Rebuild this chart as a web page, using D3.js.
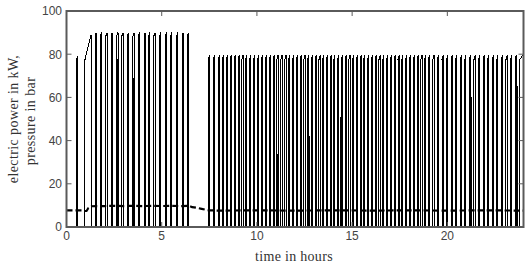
<!DOCTYPE html>
<html>
<head>
<meta charset="utf-8">
<script src="https://cdn.jsdelivr.net/npm/d3@7"></script>
<style>
    html, body { margin: 0; padding: 0; background: #fff; }
    svg { display: block; }
</style>
</head>
<body>
<div id="chart"></div>
<script>
const xTicks = [0, 5, 10, 15, 20];
const yTicks = [0, 20, 40, 60, 80, 100];

// runs before the regular cycling: [on (h), off (h), kW at switch-on, kW at switch-off]
const warmupRuns = [[0.52, 0.57, 77, 79], [0.97, 1.29, 77.5, 89]];

// switch-on times (h) while cycling at ~90 kW
const highStarts = [1.50, 1.78, 2.07, 2.34, 2.64, 2.91, 3.19, 3.49, 3.78, 4.07,
    4.31, 4.59, 4.89, 5.19, 5.47, 5.78, 6.07, 6.34];
const highLevel = [88.5, 90];
const highOnTime = 0.065;

// switch-on times (h) while cycling at ~79 kW
const lowStarts = [7.45, 7.71, 7.97,
    8.18, 8.39, 8.59, 8.80, 9.01, 9.21, 9.41, 9.62, 9.83, 10.03,
    10.23, 10.44, 10.65, 10.85, 11.05, 11.26, 11.47, 11.67, 11.87, 12.07,
    12.27, 12.47, 12.66, 12.86, 13.06, 13.26, 13.45, 13.65, 13.84, 14.04,
    14.24, 14.43, 14.63, 14.83, 15.02, 15.22, 15.42, 15.61, 15.81, 16.01,
    16.21, 16.41, 16.61, 16.81, 17.01, 17.21, 17.41, 17.61, 17.81, 18.01,
    18.21, 18.41, 18.61, 18.81, 19.01,
    19.24, 19.48, 19.72, 19.96, 20.20, 20.44, 20.68, 20.92, 21.16, 21.40,
    21.64, 21.88, 22.12, 22.36, 22.60, 22.84, 23.08, 23.32, 23.56];
const lowLevel = [77.5, 79.5];
const lowOnTime = 0.06;

// last run still on at the end of the day
const finalRun = [23.8, 24, 77.5, 80];

// short partial spikes in the record: [h, kW]
const partialSpikes = [[2.66, 78], [3.53, 69], [5.24, 78], [8.24, 17], [11.06, 34],
    [11.92, 49], [12.12, 59.5], [12.76, 42], [14.22, 34], [14.39, 51], [15.87, 42],
    [16.5, 25], [19.22, 68], [19.48, 17], [21.29, 60], [23.69, 65.5]];

// pressure in bar
const pressureHours = [0, 0.85, 0.95, 1.05, 1.15, 1.3, 1.6, 2.0, 2.5, 3.0, 3.5, 4.0, 4.5,
    5.0, 5.5, 6.0, 6.45, 6.6, 6.9, 7.1, 7.3, 7.5, 8, 10, 12, 14, 16, 18, 20, 22, 24];
const pressureBar = [7.7, 7.7, 7.4, 7.4, 8.8, 9.6, 9.7, 9.7, 9.8, 9.7, 9.8, 9.7, 9.8,
    9.7, 9.8, 9.7, 9.8, 9.2, 8.8, 8.4, 8.0, 7.7, 7.6, 7.7, 7.6, 7.7, 7.6, 7.7, 7.6, 7.7, 7.6];

const width = 531, height = 272;
const x = d3.scaleLinear().domain([0, 24]).range([66.5, 523.5]);
const y = d3.scaleLinear().domain([0, 100]).range([227, 11]);

const svg = d3.select('#chart').append('svg')
    .attr('width', width)
    .attr('height', height);

// build the power trace from the runs
const runs = warmupRuns
    .concat(highStarts.map(s => [s, s + highOnTime, highLevel[0], highLevel[1]]))
    .concat(lowStarts.map(s => [s, s + lowOnTime, lowLevel[0], lowLevel[1]]))
    .concat([finalRun]);

const power = [[0, 0]];
runs.forEach(r => {
    power.push([r[0], 0], [r[0], r[2]], [r[1], r[3]]);
    if (r[1] < 24) power.push([r[1], 0]);
});

const line = d3.line().x(d => x(d[0])).y(d => y(d[1]));

svg.append('path')
    .datum(power)
    .attr('fill', 'none')
    .attr('stroke', '#000')
    .attr('stroke-width', 1)
    .attr('shape-rendering', 'crispEdges')
    .attr('d', line);

partialSpikes.forEach(s => {
    svg.append('path')
        .datum([[s[0], 0], [s[0], s[1]]])
        .attr('fill', 'none')
        .attr('stroke', '#000')
        .attr('stroke-width', 1)
        .attr('shape-rendering', 'crispEdges')
        .attr('d', line);
});

svg.append('path')
    .datum(pressureHours.map((h, i) => [h, pressureBar[i]]))
    .attr('fill', 'none')
    .attr('stroke', '#000')
    .attr('stroke-width', 2.2)
    .attr('stroke-dasharray', '6,3')
    .attr('d', line);

// frame with inward ticks on all sides
const axisColor = '#5a5a5a';
const tickLen = 5;
const ticks = svg.append('g').attr('stroke', axisColor).attr('stroke-width', 1);
xTicks.concat([24]).forEach(t => {
    ticks.append('line').attr('x1', x(t)).attr('x2', x(t)).attr('y1', y(0)).attr('y2', y(0) - tickLen);
    ticks.append('line').attr('x1', x(t)).attr('x2', x(t)).attr('y1', y(100)).attr('y2', y(100) + tickLen);
});
yTicks.forEach(v => {
    ticks.append('line').attr('x1', x(0)).attr('x2', x(0) + tickLen).attr('y1', y(v)).attr('y2', y(v));
    ticks.append('line').attr('x1', x(24)).attr('x2', x(24) - tickLen).attr('y1', y(v)).attr('y2', y(v));
});

svg.append('rect')
    .attr('x', x(0)).attr('y', y(100))
    .attr('width', x(24) - x(0)).attr('height', y(0) - y(100))
    .attr('fill', 'none')
    .attr('stroke', axisColor)
    .attr('stroke-width', 2);

// tick labels
const labels = svg.append('g')
    .attr('font-family', 'Liberation Sans, Arial, sans-serif')
    .attr('font-size', 12)
    .attr('fill', '#444');

xTicks.forEach(t => {
    labels.append('text')
        .attr('x', x(t)).attr('y', 240)
        .attr('text-anchor', 'middle')
        .text(t);
});
yTicks.forEach(v => {
    labels.append('text')
        .attr('x', 62).attr('y', y(v) + 4.3)
        .attr('text-anchor', 'end')
        .text(v);
});

// axis titles
const titles = svg.append('g')
    .attr('font-family', 'Liberation Serif, Times New Roman, serif')
    .attr('font-size', 14)
    .attr('fill', '#333');

titles.append('text')
    .attr('x', (x(0) + x(24)) / 2 - 1).attr('y', 261)
    .attr('text-anchor', 'middle')
    .attr('letter-spacing', 0.3)
    .text('time in hours');

titles.append('text')
    .attr('transform', 'translate(18,119) rotate(-90)')
    .attr('text-anchor', 'middle')
    .attr('letter-spacing', 0.4)
    .text('electric power in kW,');

titles.append('text')
    .attr('transform', 'translate(35,121) rotate(-90)')
    .attr('text-anchor', 'middle')
    .attr('letter-spacing', 0.4)
    .text('pressure in bar');
</script>
</body>
</html>
